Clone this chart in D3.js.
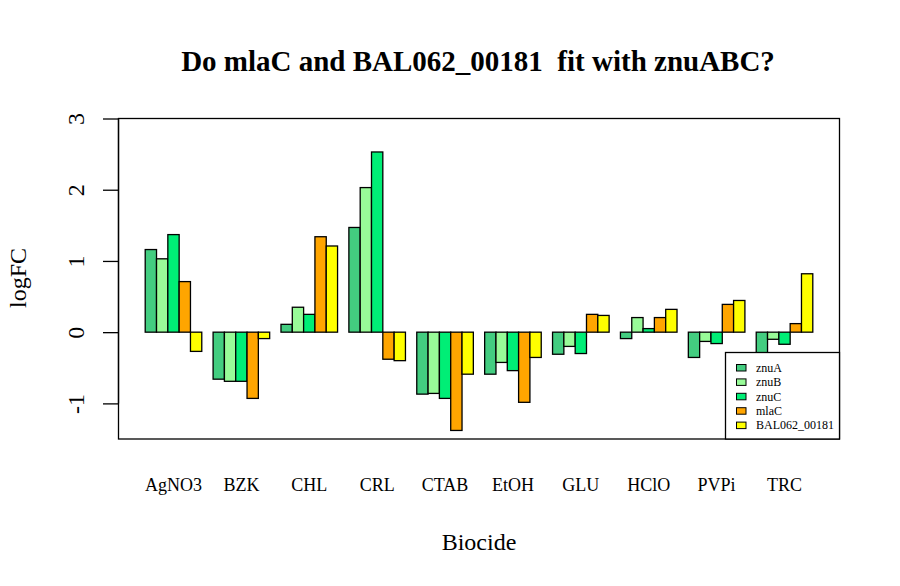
<!DOCTYPE html>
<html>
<head>
<meta charset="utf-8">
<script src="https://cdn.jsdelivr.net/npm/d3@7"></script>
<style>
  html, body { margin: 0; padding: 0; background: #fff; }
  svg { display: block; font-family: "Liberation Serif", "DejaVu Serif", serif; }
</style>
</head>
<body>
<svg id="chart" width="900" height="586"></svg>
<script>
const categories = ["AgNO3", "BZK", "CHL", "CRL", "CTAB", "EtOH", "GLU", "HClO", "PVPi", "TRC"];
const seriesNames = ["znuA", "znuB", "znuC", "mlaC", "BAL062_00181"];
const seriesColors = ["#43CD80", "#98FB98", "#00EE76", "#FFA500", "#FFFF00"];
const znuA = [1.16, -0.66, 0.11, 1.47, -0.87, -0.59, -0.31, -0.09, -0.355, -0.40];
const znuB = [1.03, -0.69, 0.35, 2.03, -0.86, -0.425, -0.20, 0.205, -0.13, -0.10];
const znuC = [1.37, -0.69, 0.25, 2.53, -0.93, -0.54, -0.30, 0.05, -0.16, -0.17];
const mlaC = [0.71, -0.93, 1.34, -0.38, -1.38, -0.985, 0.25, 0.205, 0.39, 0.12];
const BAL062_00181 = [-0.27, -0.09, 1.21, -0.40, -0.59, -0.355, 0.235, 0.32, 0.445, 0.82];
const yTicks = [-1, 0, 1, 2, 3];
const yTickLabels = ["-1", "0", "1", "2", "3"];
const titleText = "Do mlaC and BAL062_00181  fit with znuABC?";
const xLabel = "Biocide";
const yLabel = "logFC";

const seriesValues = [znuA, znuB, znuC, mlaC, BAL062_00181];

const svg = d3.select("#chart");
const pL = 118.5, pR = 839.5, pT = 118.5, pB = 439;

// R barplot(beside=TRUE) layout: space=c(0,1); group i bar j spans [1+6i+j, 2+6i+j]
const nB = seriesNames.length;
const totalUnits = categories.length * (nB + 1);
const ext = (totalUnits - 1) * 0.04;
const x = d3.scaleLinear().domain([1 - ext, totalUnits + ext]).range([pL, pR]);
const y = d3.scaleLinear().domain([-1.5, 3]).range([pB, pT]);

const bars = [];
categories.forEach((c, i) => {
  seriesValues.forEach((vals, j) => {
    const u = 1 + i * (nB + 1) + j;
    bars.push({ u, v: vals[i], color: seriesColors[j] });
  });
});

svg.append("g").selectAll("rect").data(bars).join("rect")
  .attr("x", d => x(d.u))
  .attr("width", d => x(d.u + 1) - x(d.u))
  .attr("y", d => y(Math.max(0, d.v)))
  .attr("height", d => Math.abs(y(d.v) - y(0)))
  .attr("fill", d => d.color)
  .attr("stroke", "#000")
  .attr("stroke-width", 1.3);

// Box
svg.append("rect")
  .attr("x", pL).attr("y", pT)
  .attr("width", pR - pL).attr("height", pB - pT)
  .attr("fill", "none").attr("stroke", "#000").attr("stroke-width", 1.3);

// Y axis
const yAxis = d3.axisLeft(y).tickValues(yTicks).tickSize(15.5).tickPadding(0).tickFormat((d, i) => yTickLabels[i]);
const gy = svg.append("g").attr("transform", `translate(${pL},0)`).call(yAxis)
  .attr("font-size", 24).attr("font-family", "Liberation Serif");
gy.select(".domain").attr("stroke-width", 1.3).attr("d", `M0,${y(3)}V${y(-1)}`);
gy.selectAll(".tick line").attr("stroke-width", 1.3);
gy.selectAll(".tick text")
  .attr("x", null).attr("dy", null)
  .attr("transform", "translate(-34.5,0) rotate(-90)")
  .attr("text-anchor", "middle")
  .attr("fill", "#000")
  .attr("font-size", 24);

// X category labels
svg.append("g").selectAll("text").data(categories).join("text")
  .attr("x", (d, i) => x(1 + i * (nB + 1) + nB / 2))
  .attr("y", 491)
  .attr("text-anchor", "middle")
  .attr("font-size", 18)
  .text(d => d);

// Title
svg.append("text")
  .attr("x", (pL + pR) / 2 - 1).attr("y", 70.5)
  .attr("text-anchor", "middle")
  .attr("font-size", 29).attr("font-weight", "bold")
  .style("white-space", "pre")
  .text(titleText);

// Axis titles
svg.append("text")
  .attr("x", (pL + pR) / 2).attr("y", 549.5)
  .attr("text-anchor", "middle")
  .attr("font-size", 24)
  .text(xLabel);
svg.append("text")
  .attr("transform", `translate(26,${278}) rotate(-90)`)
  .attr("text-anchor", "middle")
  .attr("font-size", 24)
  .text(yLabel);

// Legend
const lg = svg.append("g");
lg.append("rect").attr("x", 725.5).attr("y", 352.5).attr("width", pR - 725.5).attr("height", pB - 352.5)
  .attr("fill", "#fff").attr("stroke", "#000").attr("stroke-width", 1.3);
const rows = lg.selectAll("g.row").data(seriesNames).join("g").attr("class", "row")
  .attr("transform", (d, i) => `translate(0,${367.5 + i * 14.4})`);
rows.append("rect").attr("x", 736.5).attr("y", -3).attr("width", 9.5).attr("height", 6.5)
  .attr("fill", (d, i) => seriesColors[i]).attr("stroke", "#000").attr("stroke-width", 1);
rows.append("text").attr("x", 756).attr("y", 0).attr("dy", "0.35em")
  .attr("font-size", 12).text(d => d);
</script>
</body>
</html>
